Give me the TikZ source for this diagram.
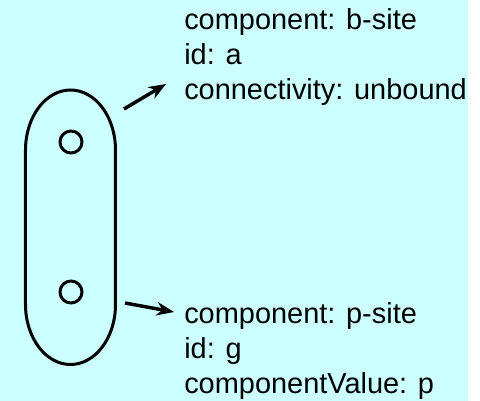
\documentclass[tikz,border=0pt]{standalone}
\usepackage{fontspec}
\setmainfont{Liberation Sans}
\usetikzlibrary{arrows.meta}
\definecolor{bgcyan}{RGB}{204,255,255}
\tikzset{
  outline/.style={line width=2.25pt},
  pointer/.style={line width=2.6pt, -{Stealth[length=13pt,width=10pt]}},
  props/.style={anchor=base west, align=left, inner sep=0pt,
    font=\fontsize{21.7}{26.6}\selectfont}
}
\begin{document}
\begin{tikzpicture}[x=0.75pt,y=0.75pt]
	%%%%% BACKGROUND %%%%%
	\useasboundingbox (0,0) rectangle (480,401);
	\fill[bgcyan] (0,0) rectangle (468,401);
	
	%%%%% MOLECULE %%%%%
	\draw[outline] (25.5,96.5) arc (180:360:45 and 60) -- (115.5,251)
		arc (0:180:45 and 60) -- cycle;
	\draw[outline] (71,259) circle (11);
	\draw[outline] (71,109) circle (11);
	
	%%%%% SITE PROPERTIES %%%%%
	% base anchor sits on the last line
	\node[props] (bsite) at (184,301) {component: b-site\\id: a\\connectivity: unbound};
	\node[props] (psite) at (184,7) {component: p-site\\id: g\\componentValue: p};
	
	\coordinate (bsiteTail) at (124,292);
	\coordinate (bsiteHead) at (166,317);
	\coordinate (psiteTail) at (125,98);
	\coordinate (psiteHead) at (174,89);
	\draw[pointer] (bsiteTail) -- (bsiteHead);
	\draw[pointer] (psiteTail) -- (psiteHead);
\end{tikzpicture}
\end{document}
